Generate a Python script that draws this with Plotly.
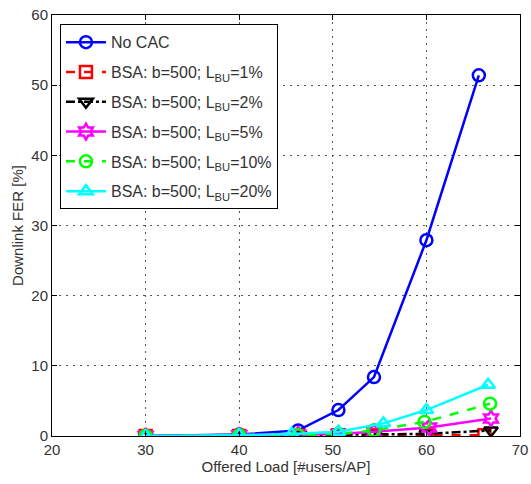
import plotly.graph_objects as go

x_nocac = [30, 40, 46.3, 50.6, 54.4, 60, 65.6]
y_nocac = [0.0, 0.2, 0.8, 3.7, 8.4, 27.9, 51.4]

x_1 = [30, 40, 46.3, 50.6, 54.4, 60, 66.2]
y_1 = [0.0, 0.0, 0.05, 0.1, 0.1, 0.1, 0.1]

x_2 = [30, 40, 46.5, 50.6, 54.4, 60, 66.9]
y_2 = [0.0, 0.0, 0.1, 0.2, 0.2, 0.3, 0.8]

x_5 = [30, 40, 46.3, 50.6, 54.4, 60.3, 66.9]
y_5 = [0.0, 0.1, 0.2, 0.3, 0.6, 1.2, 2.5]

x_10 = [30, 40, 46.3, 50.6, 54.4, 59.8, 66.8]
y_10 = [0.0, 0.1, 0.1, 0.3, 0.8, 2.0, 4.6]

x_20 = [30, 40, 45.6, 50.6, 55.4, 60.0, 66.6]
y_20 = [0.0, 0.1, 0.3, 0.6, 1.8, 3.7, 7.3]

names = ["No CAC",
         "BSA: b=500; L<sub>BU</sub>=1%",
         "BSA: b=500; L<sub>BU</sub>=2%",
         "BSA: b=500; L<sub>BU</sub>=5%",
         "BSA: b=500; L<sub>BU</sub>=10%",
         "BSA: b=500; L<sub>BU</sub>=20%"]

series = [
    (x_nocac, y_nocac, "#0000ff", "solid", "circle-open"),
    (x_1, y_1, "#ff0000", "dash", "square-open"),
    (x_2, y_2, "#000000", "dashdot", "triangle-down-open"),
    (x_5, y_5, "#ff00ff", "solid", "hexagram-open"),
    (x_10, y_10, "#00ff00", "dash", "circle-open"),
    (x_20, y_20, "#00ffff", "solid", "triangle-up-open"),
]

fig = go.Figure()
for i, ((xs, ys, col, dash, sym), nm) in enumerate(zip(series, names)):
    fig.add_trace(go.Scatter(
        x=xs, y=ys, name=nm, mode="lines+markers",
        line=dict(color=col, width=2.5, dash=dash),
        marker=dict(symbol=sym, size=12, color=col, line=dict(width=2.5, color=col)),
        legendgroup=str(i),
    ))

axis_common = dict(
    showline=True, linecolor="black", linewidth=1, mirror="ticks",
    ticks="inside", ticklen=5, tickcolor="black",
    showgrid=True, gridcolor="#555555", griddash="2px,5px", gridwidth=1,
    zeroline=False, automargin=False,
    tickfont=dict(family="Liberation Sans, Arial", size=15, color="#333333"),
)

fig.update_layout(
    width=531, height=484,
    paper_bgcolor="white", plot_bgcolor="white",
    margin=dict(l=52, r=11, t=15, b=48),
    font=dict(family="Liberation Sans, Arial", size=14, color="#333333"),
    xaxis=dict(range=[20, 70], dtick=10,
               title=dict(text="Offered Load [#users/AP]", standoff=2,
                          font=dict(size=15, color="#333333")),
               **axis_common),
    yaxis=dict(range=[0, 60], dtick=10,
               title=dict(text="Downlink FER [%]", standoff=4,
                          font=dict(size=15, color="#333333")),
               **axis_common),
    legend=dict(x=0.017, y=0.978, xanchor="left", yanchor="top",
                bgcolor="white", bordercolor="black", borderwidth=1,
                font=dict(size=16, color="#333333"), tracegroupgap=6,
                itemwidth=40),
    showlegend=True,
)

fig.write_html("out.html",
               config={"displayModeBar": False},
               post_script="document.body.style.margin='0';document.body.style.overflow='hidden';")
